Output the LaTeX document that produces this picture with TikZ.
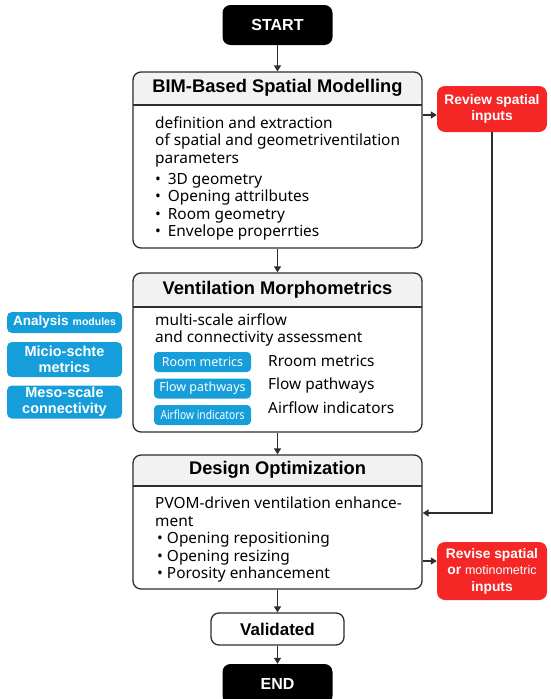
\documentclass[tikz,border=0pt]{standalone}
\usepackage{fontspec}
\setmainfont{Noto Sans}
\newfontfamily\headfont{Liberation Sans}
\usetikzlibrary{arrows.meta,positioning}
\definecolor{alertred}{RGB}{245,38,38}
\definecolor{tagblue}{RGB}{22,158,218}
\definecolor{headgray}{RGB}{242,242,242}
\definecolor{framegray}{RGB}{45,45,45}
\tikzset{
  terminal/.style={fill=black, rounded corners=8pt, minimum width=110pt, minimum height=40pt,
    inner sep=0pt, text=white, font=\headfont\bfseries\fontsize{16}{18}\selectfont},
  stagebox/.style={draw=framegray, line width=1.3pt, rounded corners=8pt, fill=white,
    minimum width=289pt, inner sep=0pt,
    path picture={
      \fill[headgray] (path picture bounding box.north west) rectangle ([yshift=-#1]path picture bounding box.north east);
      \draw[framegray, line width=1.3pt] ([yshift=-#1]path picture bounding box.north west) -- ([yshift=-#1]path picture bounding box.north east);
    }},
  headtext/.style={inner sep=0pt, font=\headfont\bfseries\fontsize{18.3}{20}\selectfont},
  bodytext/.style={inner sep=0pt, align=left, font=\fontsize{15.4}{17.5}\selectfont},
  tag/.style={fill=tagblue, rounded corners=4pt, minimum width=97pt, minimum height=20pt,
    inner sep=0pt, text=white, font=\fontsize{12.5}{14}\selectfont},
  module/.style={fill=tagblue, rounded corners=5pt, minimum width=115pt, inner sep=0pt,
    align=center, text=white, font=\headfont\bfseries\fontsize{14.5}{16}\selectfont},
  alertbox/.style={fill=alertred, rounded corners=8pt, minimum width=110pt, inner sep=0pt,
    align=center, text=white, font=\headfont\bfseries\fontsize{13.8}{16.5}\selectfont},
  flow/.style={draw=framegray, line width=1.3pt, -{Triangle[length=6pt,width=7pt]}},
}
\newcommand\bulitem{\textbullet\hspace{0.45em}}
\begin{document}
\begin{tikzpicture}[x=1pt, y=-1pt]
  \useasboundingbox (0,0) rectangle (550,699);

  % terminals
  \node[terminal] (start) at (277.5,25) {START};
  \node[terminal] (finish) at (277.5,684) {END};

  % stage 1
  \node[stagebox=33pt, minimum height=176pt] (bim) at (277.5,160) {};
  \node[headtext] (bimtitle) at ([yshift=-16.5pt]bim.north) {BIM-Based Spatial Modelling};
  \node[bodytext, anchor=north west] (bimtext) at (155,116.5)
    {definition and extraction\\of spatial and geometriventilation\\parameters};
  \node[bodytext, anchor=north west] (bimlist) at (155,173)
    {\bulitem 3D geometry\\\bulitem Opening attrilbutes\\\bulitem Room geometry\\\bulitem Envelope properrties};

  % stage 2
  \node[stagebox=34pt, minimum height=159pt] (morph) at (277.5,352.5) {};
  \node[headtext] (morphtitle) at ([yshift=-17pt]morph.north) {Ventilation Morphometrics};
  \node[bodytext, anchor=north west] (morphtext) at (155,313.5)
    {multi-scale airflow\\and connectivity assessment};
  \node[tag] (roomtag) at (202.5,362) {Room metrics};
  \node[tag] (flowtag) at (202.5,388.5) {Flow pathways};
  \node[tag] (airtag) at (202.5,415) {\scalebox{0.82}[1]{Airflow indicators}};
  \node[bodytext, anchor=west] (roomlabel) at (268,361) {Rroom metrics};
  \node[bodytext, anchor=west] (flowlabel) at (268,385) {Flow pathways};
  \node[bodytext, anchor=west] (airlabel) at (268,408) {Airflow indicators};

  % side modules
  \node[module, minimum height=21pt] (analysis) at (64.5,322.5)
    {{\fontsize{13.5}{15}\selectfont Analysis} {\fontsize{10.5}{14}\selectfont modules}};
  \node[module, minimum height=35pt] (micro) at (64.5,359.5) {Micio-schte\\metrics};
  \node[module, minimum height=33pt] (meso) at (64.5,402) {Meso-scale\\connectivity};

  % stage 3
  \node[stagebox=31pt, minimum height=134pt] (optim) at (277.5,522) {};
  \node[headtext] (optimtitle) at ([yshift=-15.5pt]optim.north) {Design Optimization};
  \node[bodytext, anchor=north west] (optimtext) at (155,497)
    {PVOM-driven ventilation enhance-\\ment\\\hspace{2pt}\textbullet\ Opening repositioning\\\hspace{2pt}\textbullet\ Opening resizing\\\hspace{2pt}\textbullet\ Porosity enhancement};

  \node[draw=framegray, line width=1.3pt, rounded corners=8pt, minimum width=133pt, minimum height=32pt,
    font=\headfont\bfseries\fontsize{17}{19}\selectfont] (valid) at (277.5,629) {Validated};

  % feedback boxes
  \node[alertbox, minimum height=46pt] (review) at (492,109) {Review spatial\\inputs};
  \node[alertbox, minimum height=58pt] (revise) at (492,571)
    {Revise spatial\\or {\mdseries\fontsize{12.5}{16.5}\selectfont motinometric}\\inputs};

  % main flow
  \draw[flow] (start) -- (bim);
  \draw[flow] (bim) -- (morph);
  \draw[flow] (morph) -- (optim);
  \draw[flow] (optim) -- (valid);
  \draw[flow] (valid) -- (finish);

  % loops
  \draw[flow] ([yshift=45pt]bim.east) -- ([yshift=45pt]bim.east -| review.west);
  \draw[flow] (review.south) |- ([yshift=9pt]optim.east);
  \draw[flow] ([yshift=-39pt]optim.east) -- ([yshift=-39pt]optim.east -| revise.west);
\end{tikzpicture}
\end{document}
